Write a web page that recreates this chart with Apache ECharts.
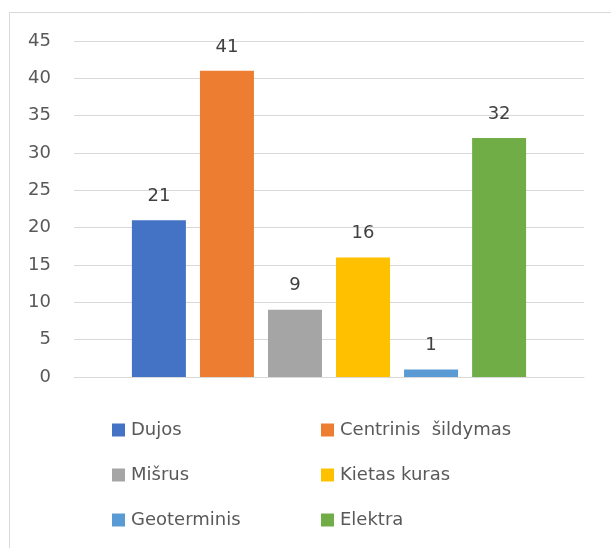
<!DOCTYPE html>
<html>
<head>
<meta charset="utf-8">
<script src="https://cdn.jsdelivr.net/npm/echarts@6/dist/echarts.min.js"></script>
<style>
  html, body { margin: 0; padding: 0; background: #fff; }
  #chart { width: 611px; height: 548px; }
</style>
</head>
<body>
<div id="chart"></div>
<script>
// heating types and counts
const heatingTypes = ["Dujos", "Centrinis  šildymas", "Mišrus", "Kietas kuras", "Geoterminis", "Elektra"];
const counts = [21, 41, 9, 16, 1, 32];
const colors = ["#4472C4", "#ED7D31", "#A5A5A5", "#FFC000", "#5B9BD5", "#70AD47"];
const yMin = 0;
const yMax = 45;
const yStep = 5;

const font = "DejaVu Sans";

const chart = echarts.init(document.getElementById("chart"));

const series = heatingTypes.map((name, i) => ({
  name: name,
  type: "bar",
  data: [counts[i]],
  barWidth: 54,
  barGap: "26%",
  itemStyle: { color: colors[i] },
  label: {
    show: true,
    position: "top",
    distance: 15,
    color: "#404040",
    fontFamily: font,
    fontSize: 18,
  },
}));

const legendBase = {
  orient: "vertical",
  icon: "rect",
  padding: 0,
  itemWidth: 13,
  itemHeight: 13,
  itemGap: 25,
  top: 420,
  textStyle: { color: "#595959", fontFamily: font, fontSize: 18, lineHeight: 20, padding: [0, 0, 0, 1] },
};

chart.setOption({
  animation: false,
  grid: { left: 74, right: 27, top: 41, bottom: 171 },
  xAxis: {
    type: "category",
    data: [""],
    axisLine: { show: true, lineStyle: { color: "#d9d9d9", width: 1 } },
    axisTick: { show: false },
    axisLabel: { show: false },
  },
  yAxis: {
    type: "value",
    min: yMin,
    max: yMax,
    interval: yStep,
    axisLine: { show: false },
    axisTick: { show: false },
    splitLine: { lineStyle: { color: "#d9d9d9", width: 1 } },
    axisLabel: { color: "#595959", fontFamily: font, fontSize: 18, margin: 23 },
  },
  legend: [
    Object.assign({}, legendBase, { left: 112, data: [heatingTypes[0], heatingTypes[2], heatingTypes[4]] }),
    Object.assign({}, legendBase, { left: 321, data: [heatingTypes[1], heatingTypes[3], heatingTypes[5]] }),
  ],
  graphic: [
    {
      type: "rect",
      shape: { x: 9.5, y: 12.5, width: 700, height: 700 },
      style: { fill: "none", stroke: "#d9d9d9", lineWidth: 1 },
      silent: true,
      z: -1,
    },
  ],
  series: series,
});
</script>
</body>
</html>
